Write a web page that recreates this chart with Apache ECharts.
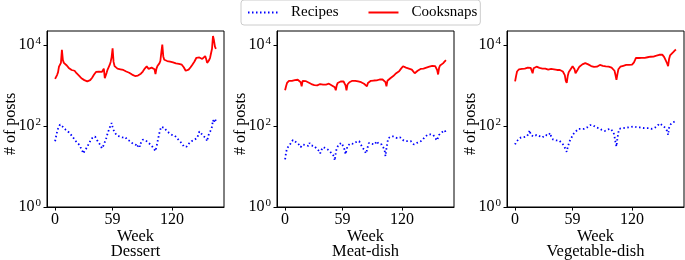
<!DOCTYPE html>
<html>
<head>
<meta charset="utf-8">
<script src="https://cdn.jsdelivr.net/npm/echarts@6/dist/echarts.min.js"></script>
<style>
  html, body { margin: 0; padding: 0; background: #fff; }
  #chart { width: 685px; height: 260px; }
</style>
</head>
<body>
<div id="chart"></div>
<script>
// weekly post counts (weeks 0..165)
const panelNames = ['Dessert', 'Meat-dish', 'Vegetable-dish']
const xTickValues = [0, 59, 120]
const yTickValues = [1, 100, 10000]

const dessertCooksnaps = [
  1450, 1600, 1800, 2100, 2900, 3100, 3600, 7500, 4200, 3600,
  3400, 3300, 3100, 2900, 2700, 2500, 2600, 2400, 2300, 2250,
  2300, 2100, 2000, 1900, 1800, 1700, 1550, 1500, 1450, 1400,
  1350, 1300, 1280, 1260, 1250, 1300, 1350, 1450, 1550, 1700,
  1850, 2000, 2150, 2250, 2400, 2200, 2100, 2050, 2150, 2000,
  2600, 1500, 1650, 2100, 2500, 2800, 3200, 3800, 5000, 8200,
  3800, 3000, 2700, 2800, 2600, 2700, 2650, 2500, 2600, 2450,
  2400, 2350, 2300, 2200, 2250, 2100, 2050, 1950, 1900, 1850,
  1800, 1750, 1700, 1620, 1650, 1750, 1800, 1900, 1950, 2100,
  2200, 2400, 2600, 2800, 2950, 2700, 2550, 2500, 2600, 2750,
  2650, 2800, 2500, 1900, 2600, 3000, 3200, 3500, 4000, 6500,
  10200, 5200, 4300, 4400, 4100, 4000, 3900, 3800, 3850, 3700,
  3800, 3700, 3600, 3700, 3500, 3450, 3600, 3400, 3300, 3350,
  3250, 3100, 2800, 2500, 2300, 2250, 2300, 2450, 2600, 2800,
  3000, 3300, 3600, 3900, 4300, 4800, 5000, 5200, 4900, 4700,
  4600, 4500, 4400, 4700, 5300, 4500, 3600, 3300, 4200, 4800,
  5200, 8000, 16500, 13000, 9000, 8000
]
const dessertRecipes = [
  42, 55, 70, 85, 95, 108, 118, 102, 95, 88,
  85, 80, 82, 74, 70, 67, 62, 60, 54, 50,
  46, 48, 40, 36, 38, 34, 30, 27, 24, 21,
  23, 26, 25, 30, 34, 38, 42, 46, 50, 48,
  53, 55, 50, 45, 42, 38, 36, 32, 28, 30,
  34, 40, 45, 55, 67, 78, 90, 105, 118, 95,
  80, 70, 65, 60, 62, 58, 55, 60, 57, 52,
  55, 50, 53, 48, 46, 44, 46, 42, 40, 38,
  36, 38, 34, 34, 30, 32, 35, 31, 38, 42,
  46, 50, 48, 44, 40, 42, 38, 38, 36, 33,
  30, 28, 27, 24, 30, 40, 52, 67, 82, 95,
  105, 98, 90, 82, 78, 72, 70, 67, 65, 62,
  60, 58, 62, 57, 55, 50, 48, 45, 42, 40,
  38, 35, 31, 33, 29, 31, 34, 36, 38, 40,
  42, 40, 44, 45, 48, 46, 52, 62, 73, 68,
  65, 60, 58, 62, 55, 48, 42, 55, 65, 72,
  80, 95, 140, 120, 150, 130
]
const meatCooksnaps = [
  760, 950, 1150, 1260, 1300, 1250, 1350, 1300, 1380, 1400,
  1350, 1300, 1380, 1380, 1300, 1250, 1200, 955, 1300, 1380,
  1350, 1280, 1250, 1200, 1180, 1150, 1100, 1080, 1050, 1000,
  1020, 980, 955, 1000, 1050, 1020, 1080, 1050, 1000, 1050,
  1080, 1100, 1050, 1000, 1080, 1100, 1100, 1050, 1000, 1000,
  980, 900, 760, 1000, 1150, 1250, 1200, 1250, 1280, 1300,
  1250, 1200, 1000, 760, 1050, 1150, 1200, 1250, 1300, 1300,
  1320, 1350, 1300, 1250, 1280, 1250, 1200, 1220, 1200, 1150,
  1120, 1100, 1080, 1050, 950, 1150, 1200, 1250, 1300, 1280,
  1300, 1320, 1350, 1300, 1330, 1350, 1380, 1400, 1350, 1380,
  1400, 1420, 1350, 1200, 950, 1300, 1400, 1450, 1500, 1550,
  1600, 1700, 1860, 1900, 2000, 2100, 2200, 2240, 2350, 2600,
  2800, 2970, 2800, 2700, 2750, 2650, 2700, 2600, 2550, 2500,
  2450, 2500, 2200, 2000, 1860, 2100, 2300, 2400, 2500, 2550,
  2600, 2650, 2600, 2700, 2700, 2750, 2800, 2850, 2900, 2950,
  3000, 3050, 2950, 3100, 3000, 2900, 2400, 1860, 2700, 3100,
  3100, 3300, 3500, 3700, 3900, 4200
]
const meatRecipes = [
  15, 22, 28, 31, 30, 35, 33, 38, 45, 50,
  45, 40, 36, 38, 35, 33, 30, 27, 35, 38,
  36, 34, 38, 35, 32, 38, 36, 33, 35, 35,
  32, 30, 28, 26, 26, 24, 21, 25, 28, 30,
  33, 31, 28, 30, 27, 25, 26, 22, 24, 21,
  18, 14, 22, 28, 31, 35, 33, 36, 38, 34,
  30, 26, 20, 25, 32, 35, 33, 37, 38, 35,
  36, 38, 34, 40, 42, 36, 42, 38, 34, 30,
  28, 26, 24, 21, 25, 32, 38, 42, 40, 36,
  38, 40, 35, 38, 42, 38, 36, 40, 38, 35,
  38, 32, 26, 18, 28, 40, 50, 55, 52, 55,
  58, 60, 55, 52, 55, 50, 48, 50, 52, 48,
  46, 44, 46, 42, 40, 44, 42, 38, 40, 42,
  40, 38, 35, 36, 38, 38, 40, 38, 40, 42,
  42, 45, 48, 52, 55, 58, 60, 55, 58, 62,
  65, 67, 60, 55, 50, 46, 44, 52, 60, 62,
  67, 70, 68, 73, 78, 65
]
const vegCooksnaps = [
  1260, 1700, 2200, 2450, 2500, 2550, 2600, 2550, 2700, 2650,
  2600, 2700, 2650, 2750, 2700, 2800, 2700, 2600, 2000, 2650,
  2800, 2850, 2900, 2800, 2750, 2700, 2750, 2700, 2600, 2650,
  2550, 2600, 2500, 2550, 2450, 2500, 2600, 2550, 2500, 2450,
  2500, 2450, 2450, 2400, 2500, 2450, 2400, 2350, 2300, 2200,
  2100, 1800, 1300, 1150, 1700, 2100, 2200, 2500, 2800, 2970,
  2800, 2500, 2000, 1800, 2400, 2650, 2900, 3000, 3200, 3300,
  3400, 3500, 3550, 3600, 3400, 3300, 3200, 3100, 3000, 2950,
  2900, 2850, 2800, 2700, 2900, 3000, 3100, 3200, 3200, 3100,
  3050, 3000, 3100, 2950, 2970, 2970, 2900, 2850, 2800, 2750,
  2700, 2600, 2300, 1800, 1380, 1900, 2500, 2800, 2900, 2970,
  3000, 3050, 3100, 3150, 3200, 3150, 3100, 3200, 3150, 3200,
  3250, 3200, 3700, 4200, 4800, 4700, 4600, 4750, 4800, 4700,
  4800, 4850, 4700, 4800, 4900, 4850, 4950, 5000, 5000, 5100,
  5100, 5200, 5150, 5250, 5300, 5400, 5500, 5600, 5700, 5750,
  5800, 5760, 5500, 5000, 4800, 4600, 3500, 2970, 4500, 5500,
  5760, 6000, 6500, 7000, 7300, 7700
]
const vegRecipes = [
  35, 40, 42, 45, 48, 50, 52, 55, 50, 53,
  55, 58, 55, 60, 65, 78, 60, 58, 56, 55,
  58, 55, 60, 62, 60, 56, 58, 60, 52, 55,
  58, 60, 56, 62, 58, 60, 67, 55, 50, 46,
  48, 45, 44, 46, 42, 44, 42, 40, 38, 36,
  33, 31, 26, 23, 30, 36, 42, 46, 52, 60,
  62, 67, 72, 78, 80, 85, 89, 92, 85, 88,
  90, 85, 88, 85, 92, 98, 100, 105, 102, 107,
  104, 98, 95, 92, 96, 90, 88, 89, 85, 80,
  82, 78, 75, 75, 80, 82, 85, 86, 85, 80,
  78, 70, 55, 40, 31, 50, 70, 85, 82, 86,
  88, 87, 89, 90, 92, 88, 92, 95, 98, 95,
  100, 105, 98, 95, 95, 92, 95, 98, 92, 90,
  88, 89, 92, 90, 88, 86, 85, 88, 85, 82,
  85, 88, 86, 89, 92, 95, 100, 108, 115, 110,
  120, 105, 100, 95, 90, 95, 75, 60, 90, 105,
  115, 120, 125, 118, 128, 130
]

const recipesByPanel = [dessertRecipes, meatRecipes, vegRecipes]
const cooksnapsByPanel = [dessertCooksnaps, meatCooksnaps, vegCooksnaps]

const FONT = "'Liberation Serif', 'Times New Roman', serif"
const gridLefts = [47, 277, 507]

const toPairs = arr => arr.map((v, i) => [i, v])

function buildOption() {
  const grid = [], xAxis = [], yAxis = [], series = []
  panelNames.forEach((name, i) => {
    grid.push({
      left: gridLefts[i], top: 31, width: 177, height: 176,
      outerBoundsMode: 'none', containLabel: false,
      show: true, borderColor: '#000', borderWidth: 1
    })
    xAxis.push({
      type: 'value', gridIndex: i, min: -8.3, max: 173.3,
      name: 'Week\n' + name, nameLocation: 'middle', nameGap: 22, nameMoveOverlap: false,
      nameTextStyle: { fontFamily: FONT, fontSize: 16.5, lineHeight: 15, color: '#000' },
      axisLine: { show: true, onZero: false, lineStyle: { color: '#000', width: 1 } },
      axisTick: { show: true, length: 3.5, customValues: xTickValues, lineStyle: { color: '#000' } },
      axisLabel: { customValues: xTickValues, margin: 5, fontFamily: FONT, fontSize: 16, color: '#000' },
      splitLine: { show: false }
    })
    yAxis.push({
      type: 'log', logBase: 10, gridIndex: i, min: 1, max: 22000,
      name: '# of posts', nameLocation: 'middle', nameGap: 28, nameRotate: 90, nameMoveOverlap: false,
      nameTextStyle: { fontFamily: FONT, fontSize: 16, color: '#000', padding: [0, 10, 0, 0] },
      axisLine: { show: true, onZero: false, lineStyle: { color: '#000', width: 1 } },
      axisTick: { show: true, length: 3.5, customValues: yTickValues, lineStyle: { color: '#000' } },
      axisLabel: {
        customValues: yTickValues, margin: 6, color: '#000',
        formatter: v => '{b|10}{s|' + Math.round(Math.log10(v)) + '}',
        rich: {
          b: { fontFamily: FONT, fontSize: 16, color: '#000' },
          s: { fontFamily: FONT, fontSize: 11, color: '#000', padding: [0, 0, 8, 1] }
        }
      },
      splitLine: { show: false }
    })
    series.push({
      name: 'Recipes', type: 'line', xAxisIndex: i, yAxisIndex: i,
      data: toPairs(recipesByPanel[i]), showSymbol: false, symbol: 'none',
      lineStyle: { color: '#0000ff', width: 1.8, type: [1.5, 2.5] },
      itemStyle: { color: '#0000ff' }
    })
    series.push({
      name: 'Cooksnaps', type: 'line', xAxisIndex: i, yAxisIndex: i,
      data: toPairs(cooksnapsByPanel[i]), showSymbol: false, symbol: 'none',
      lineStyle: { color: '#ff0000', width: 1.8 },
      itemStyle: { color: '#ff0000' }
    })
  })

  return {
    animation: false,
    backgroundColor: '#fff',
    legend: {
      data: ['Recipes', 'Cooksnaps'],
      left: 241, top: 0,
      padding: [5, 3, 5, 6],
      itemWidth: 30, itemHeight: 14, itemGap: 29,
      borderColor: '#cccccc', borderWidth: 1, borderRadius: 3,
      itemStyle: { opacity: 0 },
      textStyle: { fontFamily: FONT, fontSize: 15, color: '#000', padding: [0, 0, 0, 8] }
    },
    grid, xAxis, yAxis, series
  }
}

const chart = echarts.init(document.getElementById('chart'))
chart.setOption(buildOption())
</script>
</body>
</html>
